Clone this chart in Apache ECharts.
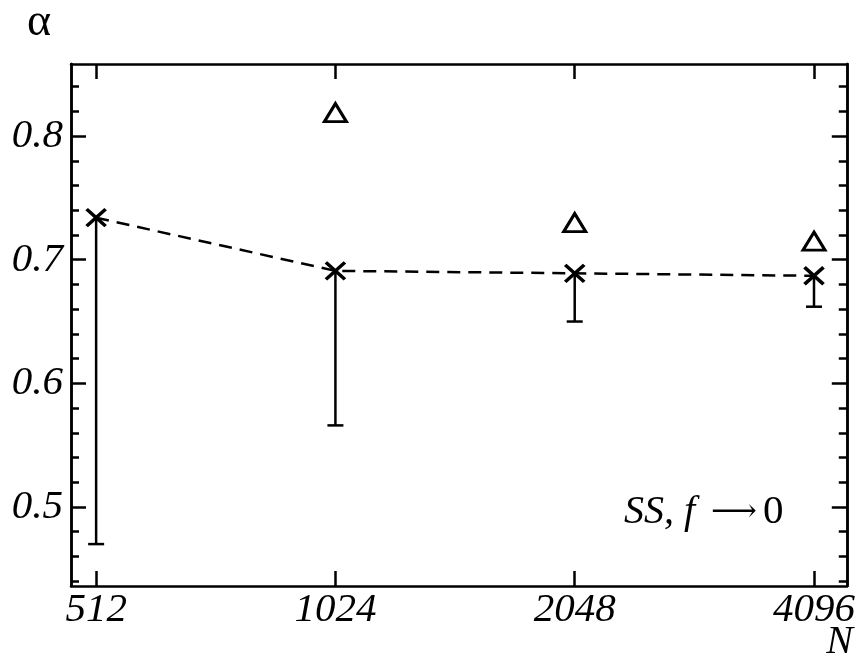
<!DOCTYPE html>
<html>
<head>
<meta charset="utf-8">
<script src="https://cdn.jsdelivr.net/npm/echarts@6/dist/echarts.min.js"></script>
<style>html,body{margin:0;padding:0;background:#fff;}#c{width:858px;height:662px;}</style>
</head>
<body>
<div id="c"></div>
<script>
// ---- data ----
const sizesN = [512, 1024, 2048, 4096];
const alphaSS = [0.734, 0.691, 0.689, 0.687];
const alphaLower = [0.470, 0.566, 0.650, 0.662];
const triN = [1024, 2048, 4096];
const alphaTri = [0.819, 0.730, 0.715];
const yMajorTicks = [0.5, 0.6, 0.7, 0.8];
const yMinorTicks = [0.44, 0.46, 0.48, 0.52, 0.54, 0.56, 0.58, 0.62, 0.64, 0.66, 0.68, 0.72, 0.74, 0.76, 0.78, 0.82, 0.84];
const xTickLabels = ['512', '1024', '2048', '4096'];

// ---- build ----
const lx = sizesN.map(n => Math.log2(n));
const mainData = lx.map((x, i) => [x, alphaSS[i]]);
const errData = lx.map((x, i) => [x, alphaSS[i], alphaLower[i]]);
const triData = triN.map((n, i) => [Math.log2(n), alphaTri[i]]);

const X_MIN = 8.895, X_MAX = 12.137, Y_MIN = 0.4361, Y_MAX = 0.8583;
const black = '#000';
const labelFont = {fontFamily: 'Liberation Serif', fontStyle: 'italic', fontSize: 41, color: black};

function xAxisDef(pos, showLabel) {
  return {
    type: 'value', position: pos, min: X_MIN, max: X_MAX,
    axisLine: {show: true, onZero: false, lineStyle: {color: black, width: 2.5}},
    axisTick: {show: true, inside: true, length: 15, lineStyle: {color: black, width: 2.5}, customValues: lx},
    axisLabel: Object.assign({show: showLabel, margin: 4, customValues: lx,
      formatter: v => xTickLabels[lx.findIndex(t => Math.abs(t - v) < 1e-6)] || ''}, labelFont),
    splitLine: {show: false}
  };
}
function yAxisDef(pos, ticks, len, showLabel) {
  return {
    type: 'value', position: pos, min: Y_MIN, max: Y_MAX,
    axisLine: {show: true, onZero: false, lineStyle: {color: black, width: 2.5}},
    axisTick: {show: true, inside: true, length: len, lineStyle: {color: black, width: 2.5}, customValues: ticks},
    axisLabel: Object.assign({show: showLabel, margin: 8, customValues: ticks,
      formatter: v => v.toFixed(1)}, labelFont),
    splitLine: {show: false}
  };
}

const chart = echarts.init(document.getElementById('c'), null, {renderer: 'canvas'});
chart.setOption({
  backgroundColor: '#fff',
  animation: false,
  grid: {left: 71, right: 9, top: 64, bottom: 76, containLabel: false},
  xAxis: [xAxisDef('bottom', true), xAxisDef('top', false)],
  yAxis: [
    yAxisDef('left', yMajorTicks, 15, true),
    yAxisDef('left', yMinorTicks, 8, false),
    yAxisDef('right', yMajorTicks, 15, false),
    yAxisDef('right', yMinorTicks, 8, false)
  ],
  series: [
    {
      type: 'custom',
      xAxisIndex: 0, yAxisIndex: 0,
      data: errData,
      z: 1,
      renderItem: function (params, api) {
        const top = api.coord([api.value(0), api.value(1)]);
        const bot = api.coord([api.value(0), api.value(2)]);
        const half = 8;
        return {
          type: 'group',
          children: [
            {type: 'line', shape: {x1: top[0], y1: top[1], x2: bot[0], y2: bot[1]}, style: {stroke: black, lineWidth: 2.5}},
            {type: 'line', shape: {x1: bot[0] - half, y1: bot[1], x2: bot[0] + half, y2: bot[1]}, style: {stroke: black, lineWidth: 2.5}}
          ]
        };
      }
    },
    {
      type: 'line',
      xAxisIndex: 0, yAxisIndex: 0,
      data: mainData,
      z: 3,
      lineStyle: {color: black, width: 2.5, type: [13, 8]},
      symbol: 'path://M0,0L10,9M10,0L0,9',
      symbolSize: [19, 17],
      itemStyle: {color: black, borderColor: black, borderWidth: 3.5}
    },
    {
      type: 'scatter',
      xAxisIndex: 0, yAxisIndex: 0,
      data: triData,
      z: 3,
      symbol: 'triangle',
      symbolSize: [22, 18],
      itemStyle: {color: '#fff', borderColor: black, borderWidth: 3, opacity: 1}
    }
  ],
  graphic: [
    {type: 'text', left: 27, top: 0, style: {text: 'α', font: '46px "Liberation Serif"', fill: black}},
    {type: 'text', right: 5, top: 622, style: {text: 'N', font: 'italic 40px "Liberation Serif"', fill: black}},
    {type: 'text', left: 624, top: 492, style: {
      text: '{i|SS, f}{a|⟶}{r|0}',
      rich: {
        i: {fontFamily: 'Liberation Serif', fontStyle: 'italic', fontSize: 40, fill: black},
        a: {fontFamily: 'DejaVu Serif', fontSize: 32, fill: black, padding: [0, 6, 0, 16]},
        r: {fontFamily: 'Liberation Serif', fontSize: 41, fill: black}
      }
    }}
  ]
});
</script>
</body>
</html>
